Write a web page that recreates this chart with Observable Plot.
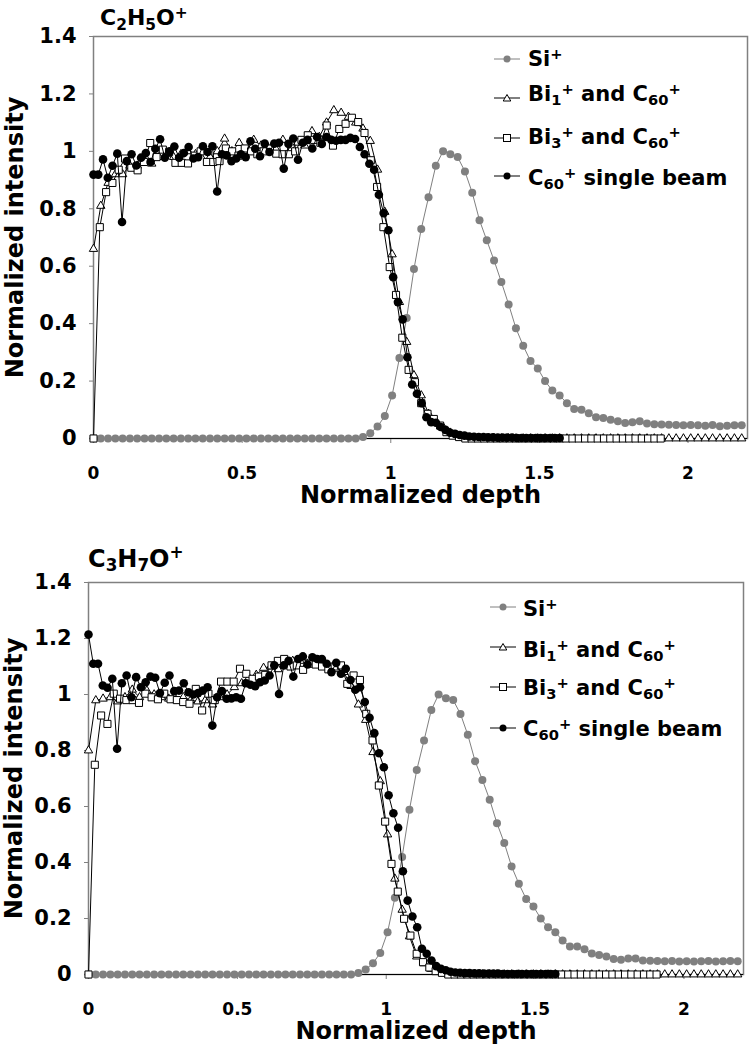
<!DOCTYPE html>
<html><head><meta charset="utf-8">
<script src="https://cdn.jsdelivr.net/npm/d3@7"></script>
<script src="https://cdn.jsdelivr.net/npm/@observablehq/plot@0.6"></script>
<style>
body{margin:0;background:#fff;font-family:"DejaVu Sans",Verdana,sans-serif;}
#page{position:relative;width:752px;height:1048px;overflow:hidden;background:#fff}
.panel{position:absolute;left:0;width:752px}
.txt{position:absolute;font-weight:bold;white-space:nowrap;line-height:1;color:#000}
.sub{font-size:0.7em;position:relative;top:0.28em}
.sup{font-size:0.7em;position:relative;top:-0.5em}
.sw{position:absolute}
</style></head>
<body><div id="page"></div>
<script>
// ---------- data ----------
const seriesNames = ["Si+", "Bi1+ and C60+", "Bi3+ and C60+", "C60+ single beam"];
const xTicks = [0, 0.5, 1, 1.5, 2];
const yTicks = [0, 0.2, 0.4, 0.6, 0.8, 1, 1.2, 1.4];
// depth sampling step of each series (normalized depth per point)
const stepSi = 0.0245, stepBi1 = 0.0245, stepBi3 = 0.0212, stepC60 = 0.016;

// Panel 1 : C2H5O+
const siTop = [0,0,0,0,0,0,0,0,0,0,0,0,0,0,0,0,0,0,0,0,0,0,0,0,0,0,0,0,0,0,0,0,0,0,0,0,0,
  0.005,0.018,0.042,0.078,0.15,0.28,0.42,0.59,0.73,0.84,0.95,1.0,0.99,0.98,0.93,0.856,0.76,0.69,0.62,0.545,0.467,0.384,0.323,0.27,0.244,0.20,0.167,0.15,0.123,0.103,0.10,0.088,0.074,0.071,0.065,0.06,0.054,0.057,0.06,0.052,0.05,0.049,0.048,0.047,0.046,0.047,0.046,0.044,0.047,0.043,0.044,0.046,0.046];
const bi1Top = [0.66,0.81,0.89,0.92,0.92,0.95,0.95,0.97,0.957,0.98,0.99,0.98,0.99,1.0,0.99,1.0,0.98,1.0,1.044,1.0,1.029,1.0,1.04,1.02,1.01,1.01,1.04,1.0,1.03,1.02,1.07,1.05,1.10,1.143,1.134,1.12,1.10,1.079,1.036,0.936,0.789,0.641,0.475,0.336,0.22,0.15,0.086,0.06,0.04,0.02,0.01,0.005,
  0,0,0,0,0,0,0,0,0,0,0,0,0,0,0,0,0,0,0,0,0,0,0,0,0,0,0,0,0,0,0,0,0,0,0,0,0,0];
const bi3Top = [0,0.736,0.858,0.89,0.936,0.975,0.943,0.934,0.963,1.029,0.98,1.006,0.998,0.96,0.96,0.958,0.985,1.0,0.963,0.963,0.966,1.01,1.0,0.985,1.01,1.0,0.99,1.0,1.01,0.992,0.99,0.99,1.0,1.04,1.056,1.04,1.03,1.09,1.02,1.078,1.096,1.117,1.102,1.064,0.969,0.876,0.736,0.597,0.5,0.351,0.239,0.196,0.123,0.086,0.068,0.045,0.022,0.01,0.005,
  0,0,0,0,0,0,0,0,0,0,0,0,0,0,0,0,0,0,0,0,0,0,0,0,0,0,0,0,0,0,0,0];
const c60Top = [0.919,0.919,0.972,0.908,0.95,0.992,0.754,0.966,0.99,0.951,0.978,0.994,0.963,1.009,1.042,0.978,1.0,1.017,0.978,0.994,1.015,0.975,0.98,1.018,0.998,1.018,0.86,0.99,0.986,0.966,0.975,0.99,0.98,1.035,1.009,
  0.983,1.027,0.998,1.027,1.03,0.94,1.026,1.045,0.971,1.03,1.04,1.01,1.05,1.026,1.05,1.04,1.037,1.04,1.04,1.047,1.043,1.015,0.99,0.957,0.936,0.849,0.785,0.725,0.562,0.475,0.415,0.283,0.188,0.156,0.123,0.074,0.057,0.055,0.04,0.03,0.02,0.016,0.012,0.01,
  0.007,0.006,0.005,0.005,0.004,0.004,0.003,0.003,0.003,0.003,0.002,0.002,0.002,0.002,0.002,0.002,0.002,0.002,0.002,0.002];

// Panel 2 : C3H7O+
const siBot = [0,0,0,0,0,0,0,0,0,0,0,0,0,0,0,0,0,0,0,0,0,0,0,0,0,0,0,0,0,0,0,0,0,0,0,0,0,
  0.005,0.018,0.04,0.077,0.151,0.274,0.42,0.588,0.73,0.836,0.945,1.0,0.987,0.98,0.93,0.856,0.762,0.695,0.624,0.54,0.47,0.386,0.324,0.27,0.243,0.20,0.169,0.151,0.121,0.10,0.10,0.09,0.075,0.07,0.064,0.055,0.053,0.057,0.057,0.05,0.049,0.048,0.047,0.048,0.046,0.047,0.046,0.047,0.048,0.046,0.047,0.048,0.047];
const bi1Bot = [0.80,0.979,0.985,0.99,0.975,0.99,1.017,0.99,1.014,1.0,0.99,0.985,0.98,0.99,0.98,0.975,0.979,0.964,0.99,1.0,1.026,1.04,1.06,1.07,1.095,1.1,1.09,1.11,1.12,1.12,1.11,1.12,1.11,1.1,1.09,1.08,1.03,0.964,0.909,0.794,0.69,0.5,0.342,0.231,0.136,0.064,0.04,0.02,0.01,0.005,
  0,0,0,0,0,0,0,0,0,0,0,0,0,0,0,0,0,0,0,0,0,0,0,0,0,0,0,0,0,0,0,0,0,0,0,0,0,0,0,0];
const bi3Bot = [0,0.749,0.925,0.895,1.003,0.985,0.98,0.98,0.97,1.003,0.99,0.983,1.003,0.983,0.98,0.973,0.967,1.02,0.943,1.003,0.98,1.046,1.046,1.046,1.092,1.074,1.056,1.064,1.07,1.104,1.12,1.127,1.1,1.104,1.088,1.11,1.107,1.1,1.09,1.1,1.104,1.038,1.068,1.052,0.931,0.836,0.675,0.546,0.395,0.296,0.199,0.139,0.074,0.044,0.025,0.012,0.006,
  0,0,0,0,0,0,0,0,0,0,0,0,0,0,0,0,0,0,0,0,0,0,0,0,0,0,0,0,0,0,0,0,0,0];
const c60Bot = [1.214,1.11,1.11,1.032,1.024,1.056,0.806,1.04,1.068,0.99,1.062,1.026,1.044,1.064,1.06,1.005,1.042,1.068,1.012,1.014,1.04,1.008,1.0,1.005,1.014,1.026,0.889,0.99,1.012,0.985,0.986,0.99,0.985,1.04,1.035,
  1.03,1.044,1.05,1.068,1.104,1.002,1.104,1.12,1.064,1.127,1.136,1.107,1.133,1.127,1.127,1.11,1.08,1.113,1.074,1.092,1.052,1.017,1.026,0.973,0.917,0.862,0.79,0.74,0.64,0.576,0.524,0.369,0.264,0.207,0.169,0.092,0.074,0.05,0.03,0.02,0.015,0.01,
  0.007,0.006,0.005,0.005,0.004,0.004,0.003,0.003,0.003,0.003,0.002,0.002,0.002,0.002,0.002,0.002,0.002,0.002,0.002,0.002,0.002,0.002];

// ---------- drawing ----------
const GRAY = "#808080";
const toPts = (vals, step) => vals.map((v, i) => ({x: i * step, y: v}));

function chart(cfg) {
  const si = toPts(cfg.si, stepSi), b1 = toPts(cfg.bi1, stepBi1),
        b3 = toPts(cfg.bi3, stepBi3), c6 = toPts(cfg.c60, stepC60);
  return Plot.plot({
    width: 752, height: cfg.height,
    marginTop: cfg.mt, marginBottom: cfg.mb, marginLeft: cfg.ml, marginRight: cfg.mr,
    style: {fontFamily: "'DejaVu Sans', Verdana, sans-serif", fontWeight: "bold", color: "black", background: "white", overflow: "visible"},
    x: {domain: [0, 2.2]},
    y: {domain: [0, 1.4]},
    marks: [
      Plot.frame({stroke: GRAY, strokeWidth: 1.5}),
      Plot.axisY({ticks: yTicks, tickFormat: d3.format("~g"), tickSize: 4, tickPadding: 13, fontSize: 21, stroke: GRAY, label: null}),
      Plot.axisX({ticks: xTicks, tickFormat: d3.format("~g"), tickSize: 5, tickPadding: 23, fontSize: 17, stroke: GRAY, label: null}),
      Plot.ruleY([0], {stroke: "black", strokeWidth: 1.2}),
      Plot.text(["Normalized depth"], {text: d => d, frameAnchor: "bottom", dy: 57, lineAnchor: "middle", fontSize: 24, fontWeight: "bold"}),
      Plot.text(["Normalized intensity"], {text: d => d, frameAnchor: "left", dx: cfg.ytDx, rotate: -90, textAnchor: "middle", lineAnchor: "middle", fontSize: 24, fontWeight: "bold"}),
      Plot.line(si, {x: "x", y: "y", stroke: GRAY, strokeWidth: 1}),
      Plot.dot(si, {x: "x", y: "y", r: 4, fill: GRAY, stroke: "none"}),
      Plot.line(b1, {x: "x", y: "y", stroke: "black", strokeWidth: 1}),
      Plot.dot(b1, {x: "x", y: "y", symbol: "triangle", r: 3.1, fill: "white", stroke: "black", strokeWidth: 1}),
      Plot.line(b3, {x: "x", y: "y", stroke: "black", strokeWidth: 1}),
      Plot.dot(b3, {x: "x", y: "y", symbol: "square", r: 4, fill: "white", stroke: "black", strokeWidth: 1}),
      Plot.line(c6, {x: "x", y: "y", stroke: "black", strokeWidth: 1}),
      Plot.dot(c6, {x: "x", y: "y", r: 4.3, fill: "black", stroke: "none"})
    ]
  });
}

const legendHTML = [
  'Si<span class="sup">+</span>',
  'Bi<span class="sub">1</span><span class="sup">+</span> and C<span class="sub">60</span><span class="sup">+</span>',
  'Bi<span class="sub">3</span><span class="sup">+</span> and C<span class="sub">60</span><span class="sup">+</span>',
  'C<span class="sub">60</span><span class="sup">+</span> single beam'
];
const swatchSym = ["graycircle", "triangle", "square", "blackcircle"];

function swatch(kind) {
  const w = 28, h = 14, cx = 14, cy = 7;
  let line = kind === "graycircle" ? GRAY : "black";
  let m = "";
  if (kind === "graycircle") m = `<circle cx="${cx}" cy="${cy}" r="3.5" fill="${GRAY}"/>`;
  if (kind === "blackcircle") m = `<circle cx="${cx}" cy="${cy}" r="3.5" fill="black"/>`;
  if (kind === "triangle") m = `<path d="M${cx},${cy-3.5}L${cx+3.8},${cy+3}L${cx-3.8},${cy+3}Z" fill="white" stroke="black"/>`;
  if (kind === "square") m = `<rect x="${cx-3.5}" y="${cy-3.5}" width="7" height="7" fill="white" stroke="black"/>`;
  return `<svg width="${w}" height="${h}"><line x1="1" x2="${w-1}" y1="${cy}" y2="${cy}" stroke="${line}" stroke-width="1"/>${m}</svg>`;
}

function panel(cfg) {
  const div = document.createElement("div");
  div.className = "panel";
  div.style.top = cfg.top + "px";
  div.style.height = cfg.height + "px";
  div.appendChild(chart(cfg));
  const t = document.createElement("div");
  t.className = "txt";
  t.style.fontSize = cfg.titleSize + "px";
  t.style.left = cfg.titleX + "px";
  t.style.top = (cfg.titleBase - 0.846 * cfg.titleSize) + "px";
  t.innerHTML = cfg.title;
  div.appendChild(t);
  const fs = 21;
  legendHTML.forEach((html, i) => {
    const s = document.createElement("div");
    s.className = "sw";
    s.style.left = cfg.swX + "px";
    s.style.top = (cfg.swY[i] - 7) + "px";
    s.innerHTML = swatch(swatchSym[i]);
    div.appendChild(s);
    const l = document.createElement("div");
    l.className = "txt";
    l.style.fontSize = fs + "px";
    l.style.left = cfg.textX + "px";
    l.style.top = (cfg.base[i] - 0.846 * fs) + "px";
    l.innerHTML = html;
    div.appendChild(l);
  });
  document.getElementById("page").appendChild(div);
}

panel({top: 0, height: 520, mt: 36, mb: 82, ml: 93, mr: 5, ytDx: -78,
  si: siTop, bi1: bi1Top, bi3: bi3Top, c60: c60Top,
  title: 'C<span class="sub">2</span>H<span class="sub">5</span>O<span class="sup">+</span>',
  titleSize: 22, titleX: 100, titleBase: 26,
  swX: 493, swY: [58, 97, 137, 175], textX: 528, base: [67, 102, 145, 186]});

panel({top: 520, height: 528, mt: 62, mb: 74, ml: 88, mr: 9, ytDx: -74,
  si: siBot, bi1: bi1Bot, bi3: bi3Bot, c60: c60Bot,
  title: 'C<span class="sub">3</span>H<span class="sub">7</span>O<span class="sup">+</span>',
  titleSize: 24, titleX: 88, titleBase: 47,
  swX: 489, swY: [86, 126, 166, 207], textX: 523, base: [97, 138, 176, 217]});
</script>
</body></html>
